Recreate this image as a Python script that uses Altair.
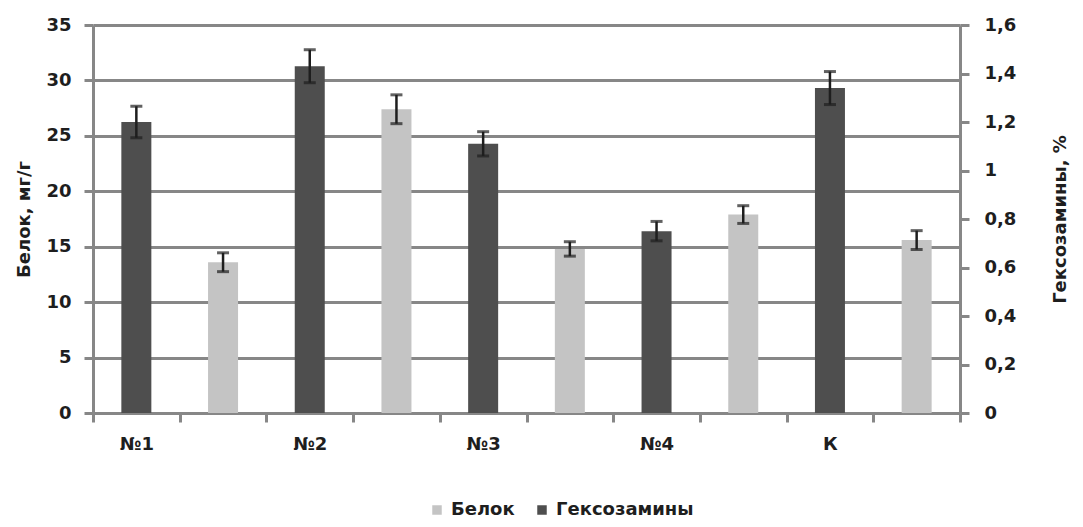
import altair as alt
import pandas as pd

# ---- data ----
groups = ["№1", "№2", "№3", "№4", "К"]
hex_values = [1.20, 1.43, 1.11, 0.75, 1.34]          # Гексозамины, % (right axis)
hex_errors = [0.065, 0.068, 0.05, 0.04, 0.068]
protein_values = [13.6, 27.4, 14.8, 17.9, 15.6]      # Белок, мг/г (left axis)
protein_errors = [0.85, 1.3, 0.65, 0.8, 0.85]
series_names = ["Белок", "Гексозамины"]
left_ticks = [0, 5, 10, 15, 20, 25, 30, 35]
right_ticks = [0, 0.2, 0.4, 0.6, 0.8, 1.0, 1.2, 1.4, 1.6]

slot_order = []
for g in groups:
    slot_order += [g, g + "_б"]

hex_df = pd.DataFrame({"slot": groups, "value": hex_values, "err": hex_errors,
                       "series": series_names[1]})
prot_df = pd.DataFrame({"slot": [g + "_б" for g in groups], "value": protein_values,
                        "err": protein_errors, "series": series_names[0]})

GRAY = "#878787"
DARK = "#1e1e1e"
FONT = "DejaVu Sans"
DOT_FILL = "#c4c4c4"
HATCH_FILL = "#4e4e4e"

x_axis = alt.Axis(title=None, labelAngle=0, tickBand="extent", tickSize=9, tickWidth=3,
                  tickColor=GRAY, domainColor=GRAY, domainWidth=3, labelPadding=13,
                  labelExpr="indexof(datum.label, '_') >= 0 ? '' : datum.label")
x_enc = alt.X("slot:N", sort=slot_order,
              scale=alt.Scale(domain=slot_order, paddingInner=0, paddingOuter=0),
              axis=x_axis)

color_enc = alt.Color("series:N",
                      scale=alt.Scale(domain=series_names, range=[DOT_FILL, HATCH_FILL]),
                      legend=alt.Legend(title=None, orient="none", direction="horizontal",
                                        legendX=335, legendY=476, symbolType="square",
                                        symbolSize=90, symbolStrokeWidth=0,
                                        labelFontSize=18, labelFontWeight="bold",
                                        labelColor=DARK, labelFont=FONT,
                                        columnPadding=18, labelOffset=5))


def group_layer(df, domain, axis):
    base = alt.Chart(df).transform_calculate(
        lo="datum.value - datum.err", hi="datum.value + datum.err")
    yscale = alt.Scale(domain=domain, nice=False, zero=True)
    bars = base.mark_bar(size=30).encode(
        x=x_enc,
        y=alt.Y("value:Q", scale=yscale, axis=axis),
        color=color_enc)
    rule = base.mark_rule(color=DARK, strokeWidth=2.5).encode(
        x=x_enc, y=alt.Y("lo:Q", scale=yscale, axis=axis), y2="hi:Q")
    cap_lo = base.mark_tick(color=DARK, size=12, thickness=3).encode(
        x=x_enc, y=alt.Y("lo:Q", scale=yscale, axis=axis))
    cap_hi = base.mark_tick(color=DARK, size=12, thickness=3).encode(
        x=x_enc, y=alt.Y("hi:Q", scale=yscale, axis=axis))
    return alt.layer(bars, rule, cap_lo, cap_hi)


left_axis = alt.Axis(orient="left", values=left_ticks, title="Белок, мг/г",
                     grid=True, gridColor=GRAY, gridWidth=3,
                     domainColor=GRAY, domainWidth=3, tickColor=GRAY, tickWidth=3,
                     tickSize=9, labelPadding=13, titlePadding=12)
right_axis = alt.Axis(orient="right", values=right_ticks, title="Гексозамины, %",
                      grid=False, domainColor=GRAY, domainWidth=3, tickColor=GRAY,
                      tickWidth=3, tickSize=9, labelPadding=15, titlePadding=54,
                      titleAngle=270,
                      labelExpr="replace(format(datum.value, '~g'), '.', ',')")

protein_layer = group_layer(prot_df, [0, 35], left_axis)
hex_layer = group_layer(hex_df, [0, 1.6], right_axis)

chart = alt.layer(protein_layer, hex_layer).resolve_scale(y="independent").properties(
    width=867, height=388,
    autosize=alt.AutoSizeParams(type="none"),
    padding={"left": 85, "top": 17, "right": 115, "bottom": 106},
).configure_view(stroke=None).configure_axis(
    labelFont=FONT, labelFontSize=18, labelFontWeight="bold", labelColor=DARK,
    titleFont=FONT, titleFontSize=18, titleFontWeight="bold", titleColor=DARK,
)

chart.save("out.html", embed_options={"renderer": "svg", "actions": False})
